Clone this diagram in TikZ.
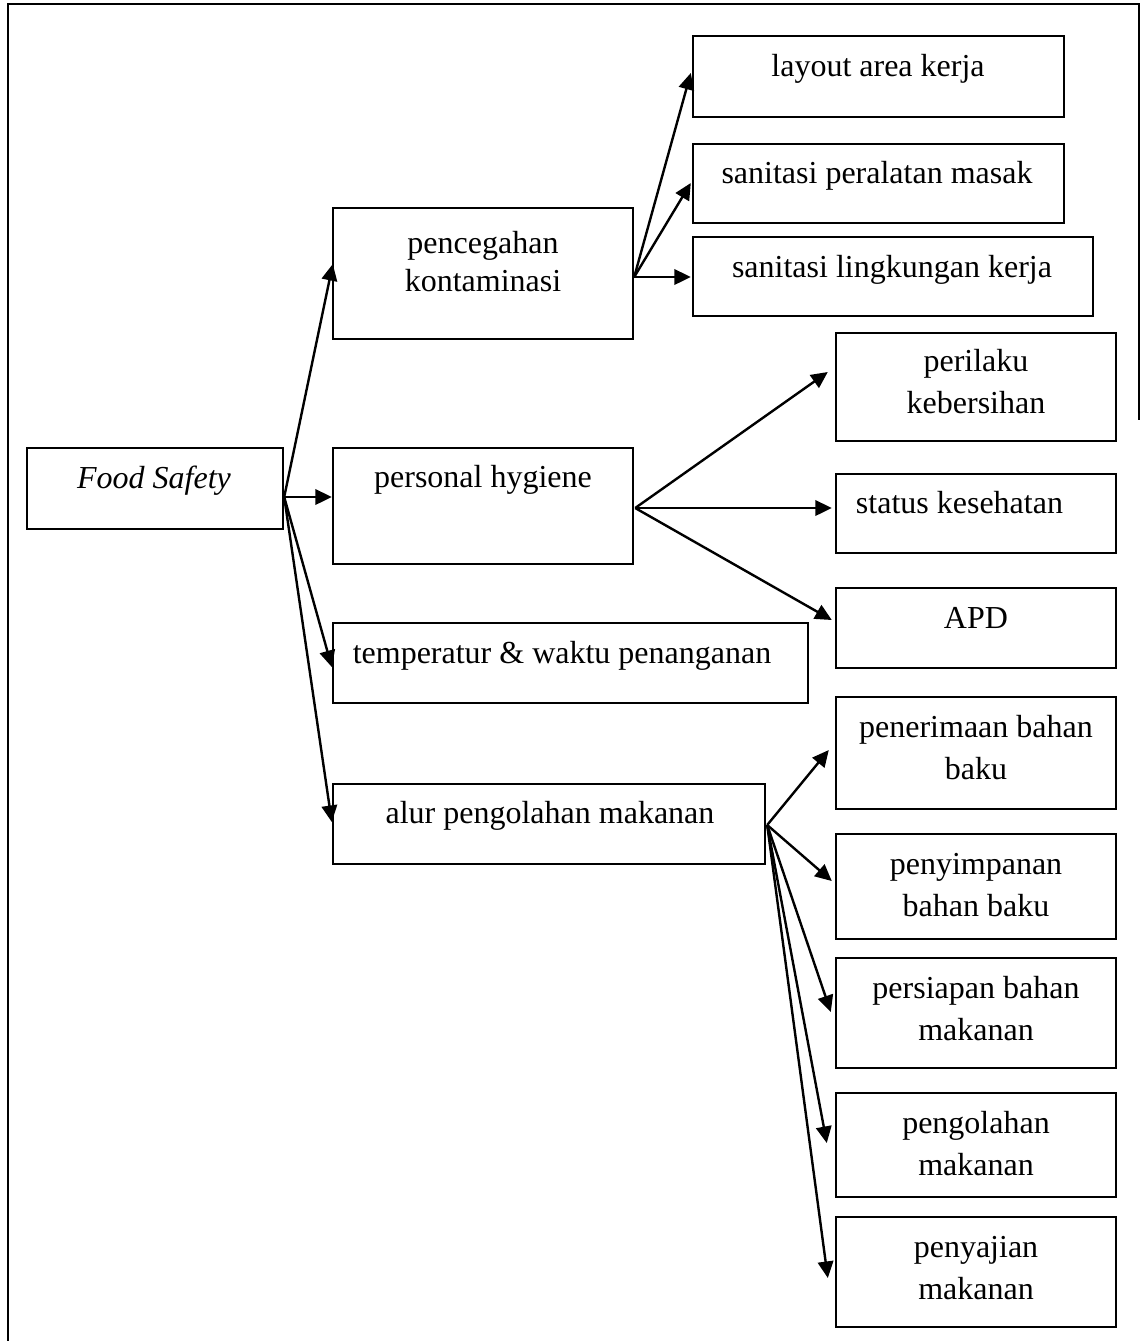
\documentclass[tikz,border=0pt]{standalone}
\usepackage{fontspec}
\setmainfont{Liberation Serif}
\usetikzlibrary{arrows.meta,calc}

% box from its corner coordinates: name, x1, y1, x2, y2
\newcommand\mkbox[5]{%
  \node[box, minimum width={(#4-#2)*0.375pt}, minimum height={(#5-#3)*0.375pt}]
    (#1) at ({(#2+#4)/2},{(#3+#5)/2}) {};}
% two centred lines, first baseline on the node's base; #1 = line pitch
\newcommand\twolines[3]{{\fontsize{12}{#1}\selectfont
  \begin{tabular}[t]{@{}c@{}}#2\\#3\end{tabular}}}

\begin{document}
\begin{tikzpicture}[
  x=0.375pt, y=-0.375pt,
  box/.style={draw, line width=0.9pt, inner sep=0pt, rectangle},
  lbl/.style={anchor=base, inner sep=0pt, font=\fontsize{12}{13.8}\selectfont},
  arr/.style={line width=0.9pt, -{Triangle[length=6.2pt,width=5.8pt]}},
  frame/.style={line width=1pt}
]
\useasboundingbox (0,0) rectangle (1141,1341);

% page frame
\draw[frame] (8,1341) -- (8,4) -- (1139,4) -- (1139,420);

% boxes
\mkbox{fs}{27}{448}{283}{529}
\mkbox{pc}{333}{208}{633}{339}
\mkbox{ph}{333}{448}{633}{564}
\mkbox{tw}{333}{623}{808}{703}
\mkbox{ap}{333}{784}{765}{864}
\mkbox{la}{693}{36}{1064}{117}
\mkbox{sp}{693}{144}{1064}{223}
\mkbox{sl}{693}{237}{1093}{316}
\mkbox{pk}{836}{333}{1116}{441}
\mkbox{sk}{836}{474}{1116}{553}
\mkbox{apd}{836}{588}{1116}{668}
\mkbox{pb}{836}{697}{1116}{809}
\mkbox{py}{836}{834}{1116}{939}
\mkbox{ps}{836}{958}{1116}{1068}
\mkbox{po}{836}{1093}{1116}{1197}
\mkbox{pj}{836}{1217}{1116}{1327}

% labels
\node[lbl] (fs-t)  at (154,488)   {\textit{Food Safety}};
\node[lbl] (pc-t)  at (483,253)   {\twolines{14.6pt}{pencegahan}{kontaminasi}};
\node[lbl] (ph-t)  at (483,487)   {personal hygiene};
\node[lbl] (tw-t)  at (562,663)   {temperatur \& waktu penanganan};
\node[lbl] (ap-t)  at (550,823)   {alur pengolahan makanan};
\node[lbl] (la-t)  at (878,76)    {layout area kerja};
\node[lbl] (sp-t)  at (877,183)   {sanitasi peralatan masak};
\node[lbl] (sl-t)  at (892,277)   {sanitasi lingkungan kerja};
\node[lbl] (pk-t)  at (976,371)   {\twolines{16.1pt}{perilaku}{kebersihan}};
\node[lbl] (sk-t)  at (959.5,513) {status kesehatan};
\node[lbl] (apd-t) at (976,628)   {APD};
\node[lbl] (pb-t)  at (976,737)   {\twolines{16.1pt}{penerimaan bahan}{baku}};
\node[lbl] (py-t)  at (976,874)   {\twolines{16.1pt}{penyimpanan}{bahan baku}};
\node[lbl] (ps-t)  at (976,998)   {\twolines{16.1pt}{persiapan bahan}{makanan}};
\node[lbl] (po-t)  at (976,1133)  {\twolines{16.1pt}{pengolahan}{makanan}};
\node[lbl] (pj-t)  at (976,1257)  {\twolines{16.1pt}{penyajian}{makanan}};

% connectors from Food Safety
\draw[arr] ($(fs.east)+(0,8.5)$) -- ($(pc.west)+(1,-9.5)$);
\draw[arr] ($(fs.east)+(0,8.5)$) -- ($(ph.west)+(0,-9)$);
\draw[arr] ($(fs.east)+(0,8.5)$) -- ($(tw.west)+(0,4)$);
\draw[arr] ($(fs.east)+(0,8.5)$) -- ($(ap.west)+(0,-2)$);

% connectors from pencegahan kontaminasi
\draw[arr] ($(pc.east)+(0,3.5)$) -- ($(la.west)+(-1,-3.5)$);
\draw[arr] ($(pc.east)+(0,3.5)$) -- ($(sp.west)+(-1,-0.5)$);
\draw[arr] ($(pc.east)+(0,3.5)$) -- ($(sl.west)+(-1,0.5)$);

% connectors from personal hygiene
\draw[arr] ($(ph.east)+(1,2)$) -- ($(pk.west)+(-7,-15)$);
\draw[arr] ($(ph.east)+(1,2)$) -- ($(sk.west)+(-3,-5.5)$);
\draw[arr] ($(ph.east)+(1,2)$) -- ($(apd.west)+(-3,-8)$);

% connectors from alur pengolahan makanan
\draw[arr] ($(ap.east)+(1,1)$) -- ($(pb.west)+(-6,-3)$);
\draw[arr] ($(ap.east)+(1,1)$) -- ($(py.west)+(-3,-5.5)$);
\draw[arr] ($(ap.east)+(1,1)$) -- ($(ps.west)+(-4,-1)$);
\draw[arr] ($(ap.east)+(1,1)$) -- ($(po.west)+(-8,-2)$);
\draw[arr] ($(ap.east)+(1,1)$) -- ($(pj.west)+(-7,6)$);
\end{tikzpicture}
\end{document}
